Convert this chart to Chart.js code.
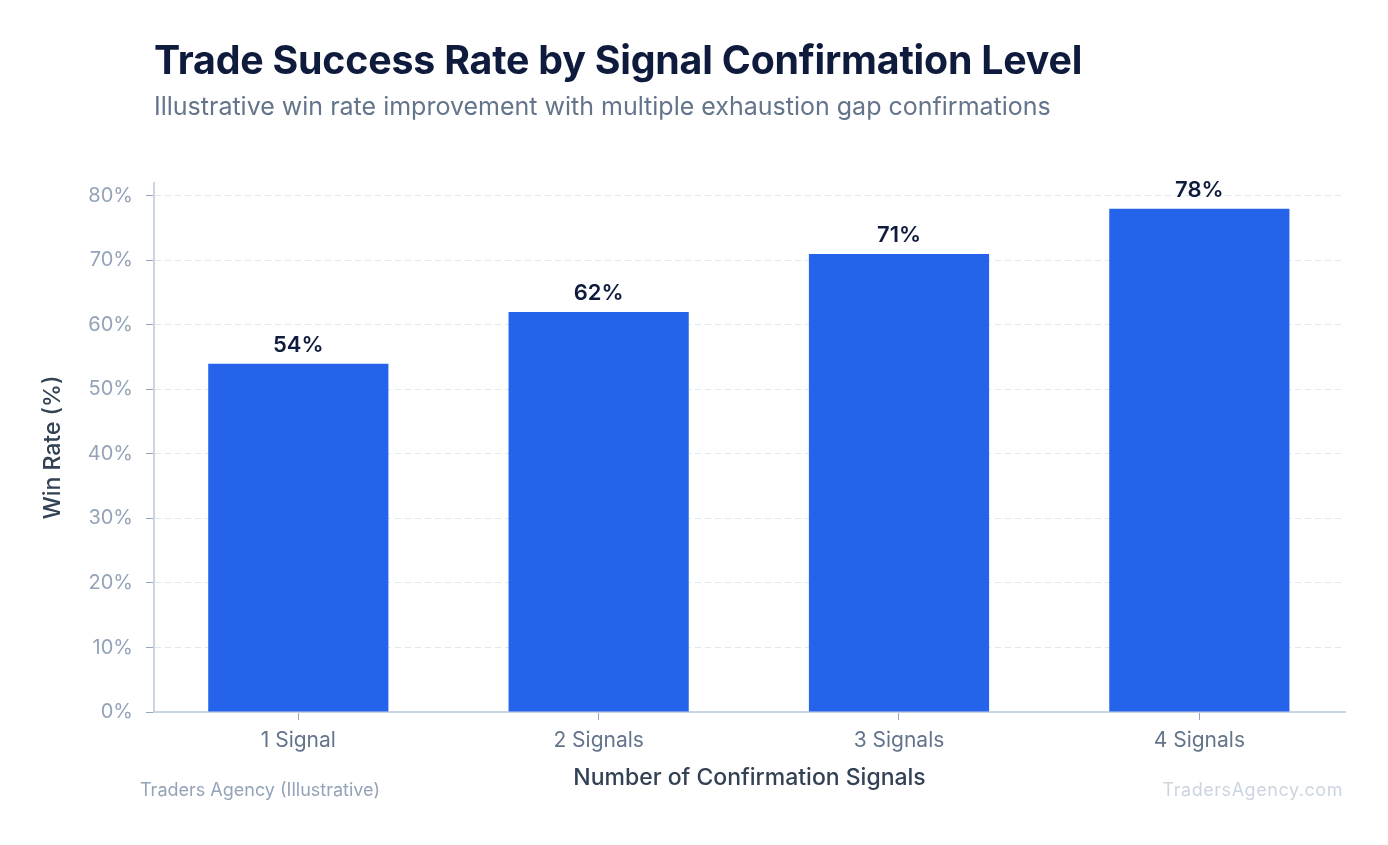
<!DOCTYPE html>
<html>
<head>
<meta charset="utf-8">
<script src="https://cdn.jsdelivr.net/npm/chart.js@4"></script>
<style>
  html, body { margin: 0; padding: 0; background: #ffffff; }
  #wrap { position: relative; width: 1388px; height: 845px; font-family: Inter, "Noto Sans", sans-serif; }
  #title { position: absolute; left: 154px; top: 36px; font-size: 39.3px; font-weight: 700; color: #0f1b3d; letter-spacing: -0.2px; white-space: nowrap; }
  #subtitle { position: absolute; left: 154px; top: 91px; font-size: 25px; font-weight: 400; color: #64748b; white-space: nowrap; }
  #srcLeft { position: absolute; left: 140px; top: 779px; font-size: 18px; color: #94a3b8; white-space: nowrap; }
  #srcRight { position: absolute; right: 45px; top: 779px; font-size: 18px; letter-spacing: 0.55px; color: #cbd5e1; white-space: nowrap; }
  #chartBox { position: absolute; left: 0; top: 0; width: 1388px; height: 845px; }
</style>
</head>
<body>
<div id="wrap">
  <div id="chartBox"><canvas id="c"></canvas></div>
  <div id="title">Trade Success Rate by Signal Confirmation Level</div>
  <div id="subtitle">Illustrative win rate improvement with multiple exhaustion gap confirmations</div>
  <div id="srcLeft">Traders Agency (Illustrative)</div>
  <div id="srcRight">TradersAgency.com</div>
</div>
<script>
const categories = ["1 Signal", "2 Signals", "3 Signals", "4 Signals"];
const winRates = [54, 62, 71, 78];
const yTickValues = [0, 10, 20, 30, 40, 50, 60, 70, 80];

const valueLabels = {
  id: 'valueLabels',
  afterDatasetsDraw(chart) {
    const ctx = chart.ctx;
    const meta = chart.getDatasetMeta(0);
    ctx.save();
    ctx.font = '600 22px Inter, "Noto Sans", sans-serif';
    ctx.fillStyle = '#0f1b3d';
    ctx.textAlign = 'center';
    ctx.textBaseline = 'alphabetic';
    meta.data.forEach((bar, i) => {
      ctx.fillText(winRates[i] + '%', bar.x, bar.y - 12);
    });
    ctx.restore();
  }
};

new Chart(document.getElementById('c'), {
  type: 'bar',
  data: {
    datasets: [{
      data: winRates.map((v, i) => ({ x: i, y: v })),
      backgroundColor: '#2563eb',
      borderWidth: 0,
      barPercentage: 0.6,
      categoryPercentage: 1.0
    }]
  },
  options: {
    responsive: true,
    maintainAspectRatio: false,
    animation: false,
    layout: { padding: { top: 183, right: 43, left: 30, bottom: 33 } },
    plugins: { legend: { display: false }, tooltip: { enabled: false } },
    scales: {
      x: {
        type: 'linear',
        offset: false,
        min: -0.4805,
        max: 3.485,
        afterFit(scale) { scale.height = 100; },
        afterBuildTicks(scale) { scale.ticks = categories.map((c, i) => ({ value: i })); },
        grid: { display: true, offset: false, drawOnChartArea: false, drawTicks: true, tickLength: 8, tickColor: '#94a3b8', tickWidth: 1 },
        border: { display: true, color: '#cbd5e1', width: 2 },
        ticks: { color: '#64748b', font: { family: 'Inter', size: 21 }, padding: 8, callback: v => categories[v] },
        title: { display: true, text: 'Number of Confirmation Signals', color: '#334155', font: { family: 'Inter', size: 23, weight: 500 }, padding: { top: 0, bottom: 20 } }
      },
      y: {
        min: 0,
        max: 82,
        afterFit(scale) { scale.width = 124; },
        afterBuildTicks(scale) { scale.ticks = yTickValues.map(v => ({ value: v })); },
        grid: { display: true, color: '#e2e8f0', lineWidth: 1, drawTicks: true, tickLength: 8, tickColor: '#94a3b8', tickBorderDash: [] },
        border: { display: true, color: '#cbd5e1', width: 2, dash: [6, 4] },
        ticks: { color: '#94a3b8', font: { family: 'Inter', size: 20 }, padding: 13, callback: v => v + '%' },
        title: { display: true, text: 'Win Rate (%)', color: '#334155', font: { family: 'Inter', size: 23, weight: 500 }, padding: { top: 9, bottom: 0 } }
      }
    }
  },
  plugins: [valueLabels]
});
</script>
</body>
</html>
